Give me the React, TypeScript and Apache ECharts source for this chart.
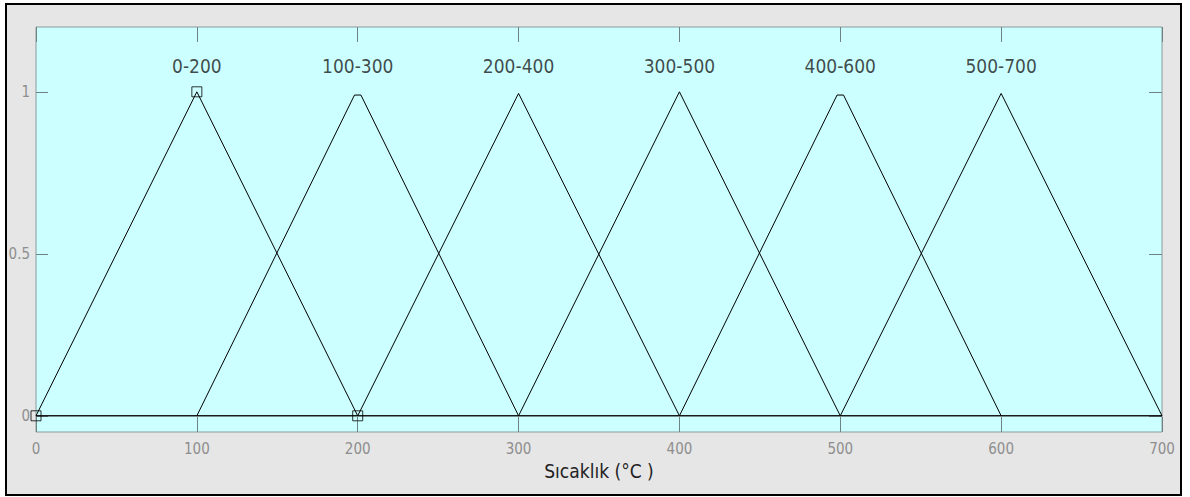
import React, { useEffect, useRef } from "react";
import * as echarts from "echarts";

// Membership function names and their triangle points [x, membership]
const mfNames = ["0-200", "100-300", "200-400", "300-500", "400-600", "500-700"];
const mfPoints: number[][][] = [
  [[0, 0], [100, 1], [200, 0]],
  [[100, 0], [198, 0.99], [202, 0.99], [300, 0]],
  [[200, 0], [300, 0.995], [400, 0]],
  [[300, 0], [400, 1], [500, 0]],
  [[400, 0], [498, 0.99], [502, 0.99], [600, 0]],
  [[500, 0], [600, 0.995], [700, 0]],
];
const mfLabelX = [100, 200, 300, 400, 500, 600];
const labelLevel = 1.08;
const zeroLine = [[0, 0], [700, 0]];
const selectedMarks = [[0, 0], [100, 1], [200, 0]];
const xTicks = [0, 100, 200, 300, 400, 500, 600, 700];
const yTicks = [0, 0.5, 1];
const xTitle = "Sıcaklık (°C )";

const FONT = "'DejaVu Sans Condensed', 'Liberation Sans Narrow', sans-serif";
const TICK_COLOR = "#6f8283";
const LABEL_GREY = "#8e8e8e";

export default function App() {
  const ref = useRef<HTMLDivElement>(null);
  useEffect(() => {
    document.body.style.margin = "0";
    const chart = echarts.init(ref.current!, undefined, { renderer: "svg" });
    const lineSeries = mfPoints.map((pts, i) => ({
      type: "line",
      name: mfNames[i],
      data: pts,
      showSymbol: false,
      lineStyle: { color: "#000", width: 1 },
      z: 3,
    }));
    const hiddenLine = { show: false, onZero: false };
    chart.setOption({
      animation: false,
      backgroundColor: "#ffffff",
      graphic: [
        {
          type: "rect",
          shape: { x: 6, y: 4, width: 1175, height: 491 },
          style: { fill: "#e6e6e6", stroke: "#000", lineWidth: 2 },
          z: -10,
          silent: true,
        },
      ],
      grid: {
        left: 36,
        top: 27,
        right: 28,
        bottom: 65,
        show: true,
        backgroundColor: "#ccffff",
        borderColor: "#8a9a9a",
        borderWidth: 1,
      },
      xAxis: [
        {
          type: "value",
          min: 0,
          max: 700,
          interval: 100,
          position: "bottom",
          axisLine: hiddenLine,
          splitLine: { show: false },
          axisTick: { inside: true, length: 15, lineStyle: { color: TICK_COLOR } },
          axisLabel: {
            customValues: xTicks,
            color: LABEL_GREY,
            fontFamily: FONT,
            fontSize: 15,
            margin: 9,
          },
          name: xTitle,
          nameLocation: "middle",
          nameGap: 29,
          nameTextStyle: { color: "#222", fontFamily: FONT, fontSize: 19 },
        },
        {
          type: "value",
          min: 0,
          max: 700,
          interval: 100,
          position: "top",
          axisLine: hiddenLine,
          splitLine: { show: false },
          axisTick: { inside: true, length: 15, lineStyle: { color: TICK_COLOR } },
          axisLabel: { show: false },
        },
      ],
      yAxis: [
        {
          type: "value",
          min: -0.05,
          max: 1.2,
          position: "left",
          axisLine: hiddenLine,
          splitLine: { show: false },
          axisTick: { inside: true, length: 12, customValues: yTicks, lineStyle: { color: TICK_COLOR } },
          axisLabel: {
            customValues: yTicks,
            color: LABEL_GREY,
            fontFamily: FONT,
            fontSize: 15,
            margin: 6,
          },
        },
        {
          type: "value",
          min: -0.05,
          max: 1.2,
          position: "right",
          axisLine: hiddenLine,
          splitLine: { show: false },
          axisTick: { inside: true, length: 13, customValues: yTicks, lineStyle: { color: TICK_COLOR } },
          axisLabel: { show: false },
        },
      ],
      series: [
        {
          type: "line",
          data: zeroLine,
          showSymbol: false,
          lineStyle: { color: "#1a1a1a", width: 1.6 },
          z: 2,
        },
        ...lineSeries,
        {
          type: "scatter",
          data: selectedMarks,
          symbol: "rect",
          symbolSize: 10,
          itemStyle: { color: "rgba(0,0,0,0)", borderColor: "#000", borderWidth: 1 },
          z: 4,
        },
        {
          type: "scatter",
          data: mfLabelX.map((x, i) => ({ value: [x, labelLevel], name: mfNames[i] })),
          symbolSize: 0,
          label: {
            show: true,
            position: "inside",
            formatter: (p: any) => p.name,
            color: "#1a1a1a",
            fontFamily: FONT,
            fontSize: 19,
          },
          z: 5,
        },
      ],
    });
    return () => chart.dispose();
  }, []);
  return <div ref={ref} style={{ width: 1190, height: 497 }} />;
}
